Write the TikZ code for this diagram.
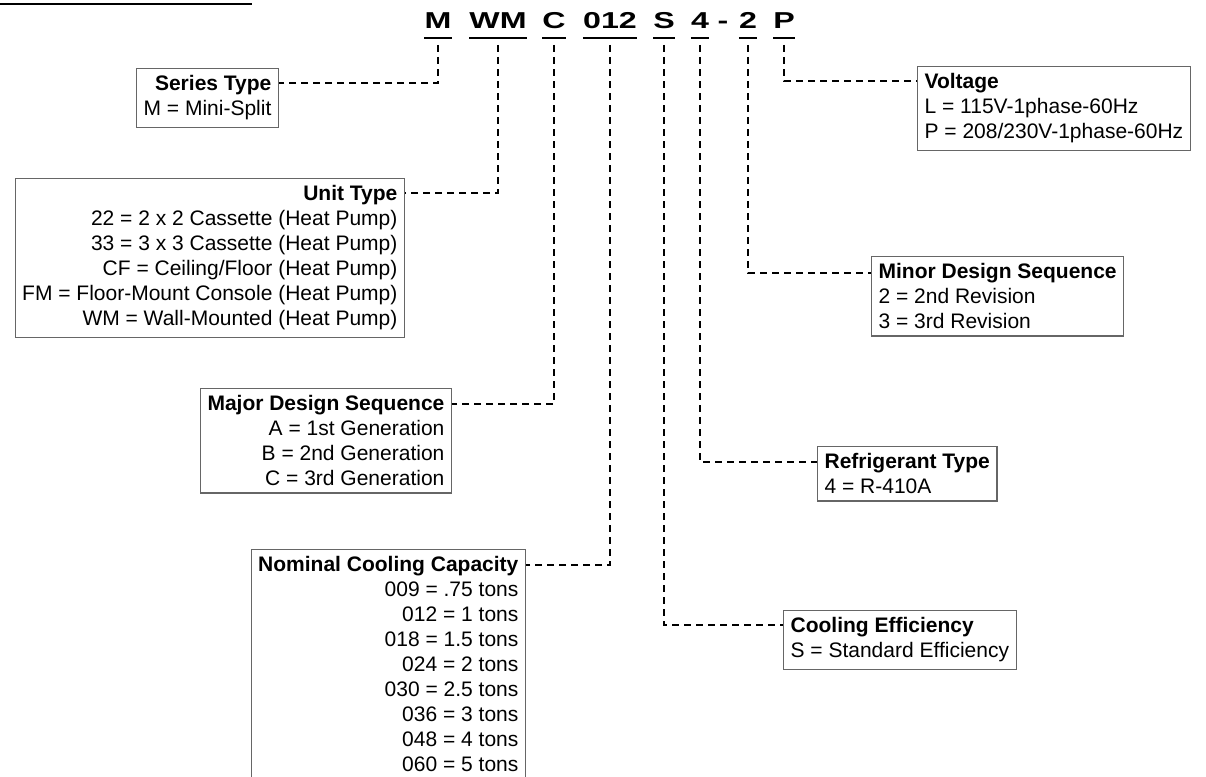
\documentclass[tikz,border=0pt]{standalone}
\usepackage{fontspec}
\setmainfont{Liberation Sans}
\newfontfamily\codefont[FakeStretch=1.4]{Liberation Sans}

\tikzset{
  code/.style={font=\codefont\bfseries\fontsize{23}{23}\selectfont, inner sep=0pt, anchor=base},
  uline/.style={line width=2pt},
  link/.style={dash pattern=on 7pt off 5pt, line width=2pt},
  infobox/.style={draw=black!60, line width=1.2pt, inner xsep=7pt, inner ysep=7pt, font=\fontsize{21}{25}\selectfont},
  leftbox/.style={infobox, align=right, anchor=north east},
  rightbox/.style={infobox, align=left, anchor=north west}
}

\begin{document}
\begin{tikzpicture}[x=1pt,y=-1pt]
\useasboundingbox (0,0) rectangle (1206,776);
\clip (0,0) rectangle (1206,776);

\draw[line width=2.5pt] (0,4) -- (252,4);

% model number
\node[code] (kM) at (438,29) {M};
\node[code] (kWM) at (498,29) {WM};
\node[code] (kC) at (554,29) {C};
\node[code] (k012) at (610,29) {012};
\node[code] (kS) at (664,29) {S};
\node[code] (k4) at (700,29) {4};
\node[code] (kdash) at (723,29) {-};
\node[code] (k2) at (748,29) {2};
\node[code] (kP) at (784,29) {P};
\foreach \k in {kM,kWM,kC,k012,kS,k4,k2,kP}
  \draw[uline] ([yshift=-9pt]\k.base west) -- ([yshift=-9pt]\k.base east);
\foreach \k in {kM,kWM,kC,k012,kS,k4,k2,kP}
  \coordinate (d\k) at ([yshift=-16pt]\k.base);

% left boxes
\node[leftbox] (series) at (279,68) {\textbf{Series Type}\\M = Mini-Split};
\node[leftbox] (unit) at (405,178) {\textbf{Unit Type}\\
  22 = 2 x 2 Cassette (Heat Pump)\\
  33 = 3 x 3 Cassette (Heat Pump)\\
  CF = Ceiling/Floor (Heat Pump)\\
  FM = Floor-Mount Console (Heat Pump)\\
  WM = Wall-Mounted (Heat Pump)};
\node[leftbox] (major) at (452,388) {\textbf{Major Design Sequence}\\
  A = 1st Generation\\
  B = 2nd Generation\\
  C = 3rd Generation};
\node[leftbox] (capacity) at (526,549) {\textbf{Nominal Cooling Capacity}\\
  009 = .75 tons\\
  012 = 1 tons\\
  018 = 1.5 tons\\
  024 = 2 tons\\
  030 = 2.5 tons\\
  036 = 3 tons\\
  048 = 4 tons\\
  060 = 5 tons};

% right boxes
\node[rightbox] (voltage) at (917,66) {\textbf{Voltage}\\
  L = 115V-1phase-60Hz\\
  P = 208/230V-1phase-60Hz};
\node[rightbox] (minor) at (871,256) {\textbf{Minor Design Sequence}\\
  2 = 2nd Revision\\
  3 = 3rd Revision};
\node[rightbox] (refrig) at (817,446) {\textbf{Refrigerant Type}\\
  4 = R-410A};
\node[rightbox] (cooling) at (783,610) {\textbf{Cooling Efficiency}\\
  S = Standard Efficiency};

% connectors
\draw[link] (dkM) |- ([yshift=-15pt]series.north east);
\draw[link] (dkWM) |- ([yshift=-15pt]unit.north east);
\draw[link] (dkC) |- ([yshift=-16pt]major.north east);
\draw[link] (dk012) |- ([yshift=-16pt]capacity.north east);
\draw[link] (dkP) |- ([yshift=-15pt]voltage.north west);
\draw[link] (dk2) |- ([yshift=-17pt]minor.north west);
\draw[link] (dk4) |- ([yshift=-16pt]refrig.north west);
\draw[link] (dkS) |- ([yshift=-15pt]cooling.north west);
\end{tikzpicture}
\end{document}
